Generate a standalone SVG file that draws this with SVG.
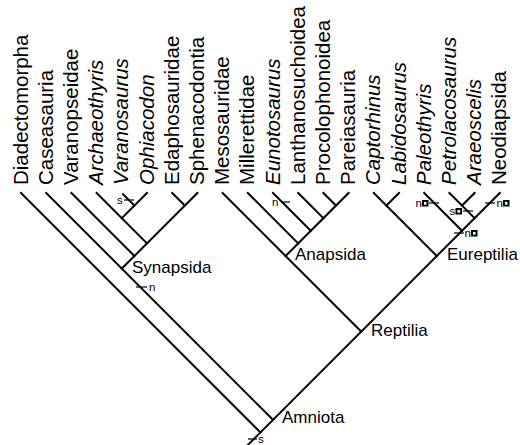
<svg xmlns="http://www.w3.org/2000/svg" width="520" height="445" viewBox="0 0 520 445">
<style>
.leaf{font-family:"Liberation Sans",Arial,sans-serif;font-size:20.5px;fill:#000}
.it{font-style:italic}
.clade{font-family:"Liberation Sans",Arial,sans-serif;font-size:17px;fill:#000}
.mk{font-family:"Liberation Sans",Arial,sans-serif;font-size:11.5px;fill:#000}
.br line{stroke:#000;stroke-width:2;stroke-linecap:square}
.tk line{stroke:#000;stroke-width:1.2}
</style>
<defs>
<g id="box"><rect x="0" y="-6.5" width="6.5" height="6.5" fill="#000"/><rect x="2" y="-4.6" width="2.5" height="2.8" fill="#fff"/></g>
</defs>
<rect width="520" height="445" fill="#fff"/>
<g id="leaves">
<g id="n-diadectomorpha"><text class="leaf" x="27.5" y="185" transform="rotate(-90 27.5 185)">Diadectomorpha</text></g>
<g id="n-caseasauria"><text class="leaf" x="52.7" y="185" transform="rotate(-90 52.7 185)">Caseasauria</text></g>
<g id="n-varanopseidae"><text class="leaf" x="77.9" y="185" transform="rotate(-90 77.9 185)">Varanopseidae</text></g>
<g id="n-archaeothyris"><text class="leaf it" x="103.1" y="185" transform="rotate(-90 103.1 185)">Archaeothyris</text></g>
<g id="n-varanosaurus"><text class="leaf it" x="128.3" y="185" transform="rotate(-90 128.3 185)">Varanosaurus</text></g>
<g id="n-ophiacodon"><text class="leaf it" x="153.5" y="185" transform="rotate(-90 153.5 185)">Ophiacodon</text></g>
<g id="n-edaphosauridae"><text class="leaf" x="178.7" y="185" transform="rotate(-90 178.7 185)">Edaphosauridae</text></g>
<g id="n-sphenacodontia"><text class="leaf" x="203.9" y="185" transform="rotate(-90 203.9 185)">Sphenacodontia</text></g>
<g id="n-mesosauridae"><text class="leaf" x="229.1" y="185" transform="rotate(-90 229.1 185)">Mesosauridae</text></g>
<g id="n-millerettidae"><text class="leaf" x="254.3" y="185" transform="rotate(-90 254.3 185)">Millerettidae</text></g>
<g id="n-eunotosaurus"><text class="leaf it" x="279.5" y="185" transform="rotate(-90 279.5 185)">Eunotosaurus</text></g>
<g id="n-lanthanosuchoidea"><text class="leaf" x="304.7" y="185" transform="rotate(-90 304.7 185)">Lanthanosuchoidea</text></g>
<g id="n-procolophonoidea"><text class="leaf" x="329.9" y="185" transform="rotate(-90 329.9 185)">Procolophonoidea</text></g>
<g id="n-pareiasauria"><text class="leaf" x="355.1" y="185" transform="rotate(-90 355.1 185)">Pareiasauria</text></g>
<g id="n-captorhinus"><text class="leaf it" x="380.3" y="185" transform="rotate(-90 380.3 185)">Captorhinus</text></g>
<g id="n-labidosaurus"><text class="leaf it" x="405.5" y="185" transform="rotate(-90 405.5 185)">Labidosaurus</text></g>
<g id="n-paleothyris"><text class="leaf it" x="430.7" y="185" transform="rotate(-90 430.7 185)">Paleothyris</text></g>
<g id="n-petrolacosaurus"><text class="leaf it" x="455.9" y="185" transform="rotate(-90 455.9 185)">Petrolacosaurus</text></g>
<g id="n-araeoscelis"><text class="leaf it" x="481.1" y="185" transform="rotate(-90 481.1 185)">Araeoscelis</text></g>
<g id="n-neodiapsida"><text class="leaf" x="506.3" y="185" transform="rotate(-90 506.3 185)">Neodiapsida</text></g>
</g>
<g id="clades">
<g id="n-synapsida"><text class="clade" x="132" y="273">Synapsida</text></g>
<g id="n-anapsida"><text class="clade" x="295" y="260">Anapsida</text></g>
<g id="n-eureptilia"><text class="clade" x="447" y="260">Eureptilia</text></g>
<g id="n-reptilia"><text class="clade" x="371" y="336">Reptilia</text></g>
<g id="n-amniota"><text class="clade" x="282" y="423">Amniota</text></g>
</g>
<g id="connectors">
<g class="br">
<line x1="499.8" y1="193" x2="247.8" y2="445"/>
<line x1="21" y1="193" x2="260.4" y2="432.4"/>
<line x1="46.2" y1="193" x2="273" y2="419.8"/>
<line x1="197.4" y1="193" x2="121.8" y2="268.6"/>
<line x1="71.4" y1="193" x2="134.4" y2="256"/>
<line x1="96.6" y1="193" x2="147" y2="243.4"/>
<line x1="147" y1="193" x2="121.8" y2="218.2"/>
<line x1="123" y1="194.2" x2="134.4" y2="205.6"/>
<line x1="172.2" y1="193" x2="184.8" y2="205.6"/>
<line x1="222.6" y1="193" x2="361.2" y2="331.6"/>
<line x1="348.6" y1="193" x2="285.6" y2="256"/>
<line x1="247.8" y1="193" x2="298.2" y2="243.4"/>
<line x1="273" y1="193" x2="310.8" y2="230.8"/>
<line x1="298.2" y1="193" x2="323.4" y2="218.2"/>
<line x1="323.4" y1="193" x2="336" y2="205.6"/>
<line x1="373.8" y1="193" x2="436.8" y2="256"/>
<line x1="399" y1="193" x2="386.4" y2="205.6"/>
<line x1="424.2" y1="193" x2="462" y2="230.8"/>
<line x1="449.4" y1="193" x2="474.6" y2="218.2"/>
<line x1="474.6" y1="193" x2="462" y2="205.6"/>
</g>
<g class="tk">
<line x1="124" y1="200" x2="134" y2="200"/>
<line x1="281" y1="202" x2="290" y2="202"/>
<line x1="136" y1="287" x2="147" y2="287"/>
<line x1="248" y1="439" x2="257" y2="439"/>
<line x1="429" y1="203" x2="439" y2="203"/>
<line x1="463" y1="211" x2="473" y2="211"/>
<line x1="485" y1="203" x2="495" y2="203"/>
<line x1="454" y1="233" x2="464" y2="233"/>
</g>
<g id="marks">
<text class="mk" x="117" y="204">s</text>
<text class="mk" x="272" y="206">n</text>
<text class="mk" x="149" y="291">n</text>
<text class="mk" x="258" y="443">s</text>
<text class="mk" x="415.5" y="207">n</text><use href="#box" x="422" y="206.5"/>
<text class="mk" x="449.5" y="215">s</text><use href="#box" x="455.5" y="214.5"/>
<text class="mk" x="496.5" y="207">n</text><use href="#box" x="503" y="206.5"/>
<text class="mk" x="464.5" y="237">n</text><use href="#box" x="471" y="236.5"/>
</g>
</g>
</svg>
